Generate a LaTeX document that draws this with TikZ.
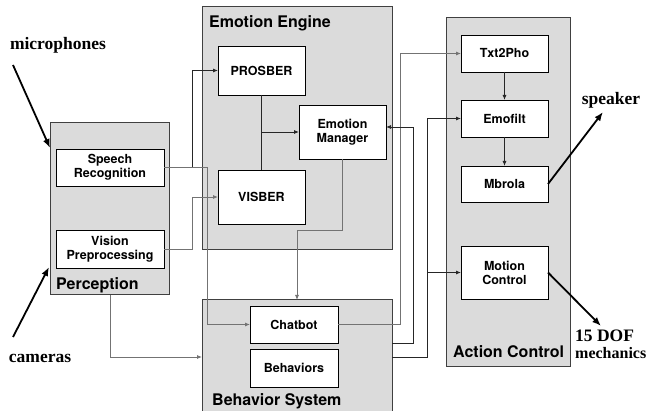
\documentclass[tikz,border=0pt]{standalone}
\usepackage{fontspec}
\setmainfont{Liberation Serif}
\newfontfamily\hv{TeX Gyre Heros}
\usetikzlibrary{arrows.meta}
\begin{document}
\begin{tikzpicture}[x=1pt,y=-1pt,
 outer/.style={draw=black!75, fill=black!14, line width=1pt, inner sep=0pt, outer sep=0pt, anchor=north west},
 box/.style={draw=black, fill=white, line width=0.8pt, inner sep=0pt, outer sep=0pt, anchor=north west, align=center, font=\hv\bfseries\fontsize{12.5}{14}\selectfont},
 ttl/.style={anchor=base west, inner sep=0pt, font=\hv\bfseries\fontsize{16}{18}\selectfont},
 lbl/.style={inner sep=0pt, font=\bfseries\fontsize{17.5}{18}\selectfont},
 conn/.style={line width=0.8pt, draw=black!85},
 gconn/.style={line width=0.8pt, draw=black!55},
 arr/.style={-{Latex[length=5pt,width=4pt]}},
 big/.style={line width=1.8pt, -{Latex[length=9pt,width=7pt]}}]
\useasboundingbox (0,0) rectangle (648,411);
% outer blocks
\node[outer, minimum width=119pt, minimum height=172pt] (perc) at (50,123) {};
\node[outer, minimum width=190pt, minimum height=243pt] (ee) at (202,7) {};
\node[outer, minimum width=190pt, minimum height=114pt] (bs) at (202,300) {};
\node[outer, minimum width=124pt, minimum height=349pt] (ac) at (446,18) {};
% titles
\node[ttl] (tperc) at (56,290) {Perception};
\node[ttl] (tee) at (209,28) {Emotion Engine};
\node[ttl] (tbs) at (212,406) {Behavior System};
\node[ttl] (tac) at (453,358) {Action Control};
% inner boxes
\node[box, minimum width=108pt, minimum height=37pt] (sr) at (56,149) {Speech\\Recognition};
\node[box, minimum width=108pt, minimum height=38pt] (vp) at (56,230) {Vision\\Preprocessing};
\node[box, minimum width=87pt, minimum height=49pt] (pros) at (218,46) {PROSBER};
\node[box, minimum width=87pt, minimum height=54pt] (em) at (299,105) {Emotion\\Manager};
\node[box, minimum width=87pt, minimum height=54pt] (vis) at (218,170) {VISBER};
\node[box, minimum width=88pt, minimum height=37pt] (chat) at (250,306) {Chatbot};
\node[box, minimum width=88pt, minimum height=38pt] (beh) at (250,349) {Behaviors};
\node[box, minimum width=87pt, minimum height=37pt] (txt) at (461,35) {Txt2Pho};
\node[box, minimum width=87pt, minimum height=37pt] (emo) at (461,100) {Emofilt};
\node[box, minimum width=87pt, minimum height=36pt] (mbr) at (461,166) {Mbrola};
\node[box, minimum width=87pt, minimum height=53pt] (mot) at (461,246) {Motion\\Control};
% external labels
\node[lbl] (mic) at (58,45) {microphones};
\node[lbl] (cam) at (40,358) {cameras};
\node[lbl] (spk) at (611,100) {speaker};
\node[lbl, anchor=base west] (dof) at (575,342) {15 DOF};
\node[lbl, anchor=base west, font=\bfseries\fontsize{16}{18}\selectfont] (mech) at (575,359) {mechanics};
\coordinate (micS) at (13,65);
\coordinate (micE) at (50,148);
\coordinate (camS) at (13,337);
\coordinate (camE) at (49,267);
\coordinate (spkE) at (603,112);
\coordinate (dofE) at (601,326);
% connectors
\draw[conn, arr] (sr.east) -- ++(28,0) |- (pros.west);
\draw[gconn, arr] (sr.east) -- ++(43,0) |- (chat.west);
\draw[gconn, arr] (vp.east) -- ++(28,0) |- (vis.west);
\coordinate (pb) at (110,357);
\draw[gconn, arr] (perc.south -| pb) -- (pb) -- (bs.west);
\draw[conn] (pros.south) -- (vis.north);
\draw[conn, arr] (pros.south |- em.west) -- (em.west);
\coordinate (emk) at (297,230);
\draw[gconn, arr] (em.south) |- (emk) -- (emk |- bs.north);
\draw[gconn, arr] (chat.east) -- ++(62,0) |- (txt.west);
\coordinate (b1) at (392,343);
\coordinate (b1t) at (413,343);
\draw[conn, arr] (b1) -- (b1t) |- ([yshift=5pt]em.east);
\coordinate (b2t) at (427,357);
\draw[conn, arr] (bs.east) -- (b2t) |- (emo.west);
\draw[conn, arr] (b2t |- mot.west) -- (mot.west);
\draw[conn, arr] (txt.south) -- (emo.north);
\draw[conn, arr] (emo.south) -- (mbr.north);
% external arrows
\draw[big] (micS) -- (micE);
\draw[big] (camS) -- (camE);
\draw[big] (mbr.east) -- (spkE);
\draw[big] (mot.east) -- (dofE);
\end{tikzpicture}
\end{document}
